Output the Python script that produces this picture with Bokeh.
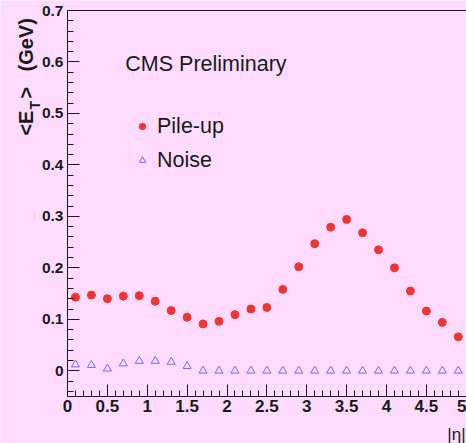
import math
from bokeh.plotting import figure
from bokeh.models import Range1d, FixedTicker, Label, Legend, LegendItem, LinearAxis
from bokeh.embed import file_html
from bokeh.resources import INLINE

# ---- data ----
eta = [0.1, 0.3, 0.5, 0.7, 0.9, 1.1, 1.3, 1.5, 1.7, 1.9, 2.1, 2.3, 2.5,
       2.7, 2.9, 3.1, 3.3, 3.5, 3.7, 3.9, 4.1, 4.3, 4.5, 4.7, 4.9]
pileup = [0.143, 0.147, 0.140, 0.145, 0.146, 0.135, 0.117, 0.104, 0.091, 0.096,
          0.109, 0.120, 0.123, 0.158, 0.202, 0.247, 0.279, 0.294, 0.268, 0.235,
          0.200, 0.155, 0.116, 0.094, 0.066]
noise = [0.012, 0.011, 0.004, 0.014, 0.019, 0.019, 0.017, 0.009, 0.0, 0.0,
         0.0, 0.0, 0.0, 0.0, 0.0, 0.0, 0.0, 0.0, 0.0, 0.0,
         0.0, 0.0, 0.0, 0.0, 0.0]
x_ticks = [0, 0.5, 1, 1.5, 2, 2.5, 3, 3.5, 4, 4.5, 5]
x_tick_labels = ["0", "0.5", "1", "1.5", "2", "2.5", "3", "3.5", "4", "4.5", "5"]
y_ticks = [0, 0.1, 0.2, 0.3, 0.4, 0.5, 0.6, 0.7]
y_tick_labels = ["0", "0.1", "0.2", "0.3", "0.4", "0.5", "0.6", "0.7"]
x_minor = [i * 0.1 for i in range(0, 51)]
y_minor = [-0.04 + i * 0.02 for i in range(0, 38)]
x_axis_bounds = (0, 5)
y_axis_bounds = (-0.05, 0.7)

BG = "#ffdcff"
INK = "#1a1a1a"
RED = "#ee3535"
BLUE = "#7766ee"
FONT = "Liberation Sans"

# frame fills the whole canvas; axes are drawn at fixed data locations
XS = 79.75         # px per unit x
YS = 386 / 0.75    # px per unit y
x0 = -67 / XS
y1 = 0.7 + 10 / YS
p = figure(width=466, height=443, output_backend="svg", toolbar_location=None,
           x_range=Range1d(x0, x0 + 466 / XS), y_range=Range1d(y1 - 443 / YS, y1),
           x_axis_type=None, y_axis_type=None, min_border=0)
p.background_fill_color = BG
p.border_fill_color = BG
p.outline_line_color = None
p.grid.visible = False


def style(ax, size):
    ax.axis_line_color = INK
    ax.major_tick_line_color = INK
    ax.minor_tick_line_color = INK
    ax.major_tick_in = 12
    ax.major_tick_out = 0
    ax.minor_tick_in = 6
    ax.minor_tick_out = 0
    ax.major_label_text_font = FONT
    ax.major_label_text_font_style = "bold"
    ax.major_label_text_color = INK
    ax.major_label_text_font_size = size


xaxis = LinearAxis(fixed_location=y_axis_bounds[0], bounds=x_axis_bounds,
                   ticker=FixedTicker(ticks=x_ticks, minor_ticks=x_minor),
                   major_label_overrides={t: l for t, l in zip(x_ticks, x_tick_labels)},
                   major_label_standoff=3)
style(xaxis, "17px")
p.add_layout(xaxis, "below")

yaxis = LinearAxis(fixed_location=x_axis_bounds[0], bounds=y_axis_bounds,
                   ticker=FixedTicker(ticks=y_ticks, minor_ticks=y_minor),
                   major_label_overrides={t: l for t, l in zip(y_ticks, y_tick_labels)},
                   major_label_standoff=4)
style(yaxis, "15.5px")
p.add_layout(yaxis, "left")

topaxis = LinearAxis(fixed_location=y_axis_bounds[1], bounds=x_axis_bounds,
                     ticker=FixedTicker(ticks=[], minor_ticks=[]),
                     axis_line_color=INK, major_tick_line_color=None,
                     minor_tick_line_color=None, major_label_text_alpha=0)
p.add_layout(topaxis, "above")

r1 = p.scatter(eta, pileup, marker="circle", size=8, fill_color=RED, line_color=RED)
r2 = p.scatter(eta, noise, marker="triangle", size=8, fill_color=None,
               line_color=BLUE, line_width=1)

legend = Legend(items=[LegendItem(label="Pile-up", renderers=[r1]),
                       LegendItem(label="Noise", renderers=[r2])],
                location=(134, 270), padding=0, margin=0,
                background_fill_alpha=0, border_line_alpha=0,
                label_text_font=FONT, label_text_font_size="21.5px",
                label_text_color=INK, glyph_width=16, glyph_height=26,
                label_height=26, spacing=8, label_standoff=7)
p.add_layout(legend)

p.add_layout(Label(x=0.725, y=0.597, text="CMS Preliminary", text_font=FONT,
                   text_font_size="21.5px", text_color=INK,
                   text_baseline="alphabetic"))
p.add_layout(Label(x=4.7625, y=-0.124, text="|η|", text_font=FONT,
                   text_font_size="17px", text_color=INK, text_baseline="middle"))

# y-axis title <E_T> (GeV), rotated
for txt, xx, yy, fs in [("<E", -0.525, 0.457, "20px"),
                        ("T", -0.4125, 0.5076, "14px"),
                        (">", -0.525, 0.529, "20px"),
                        ("(GeV)", -0.525, 0.5815, "20px")]:
    p.add_layout(Label(x=xx, y=yy, text=txt, angle=math.pi / 2, text_font=FONT,
                       text_font_size=fs, text_font_style="bold", text_color=INK,
                       text_align="left", text_baseline="middle"))

open("out.html", "w").write(file_html(p, INLINE))
